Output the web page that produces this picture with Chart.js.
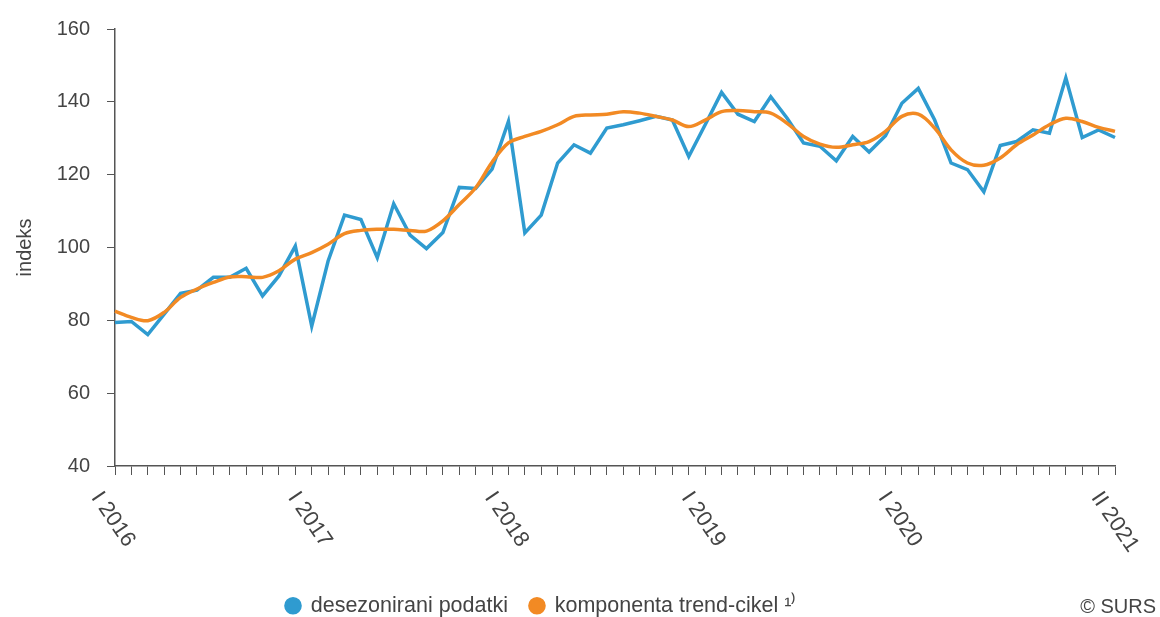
<!DOCTYPE html>
<html>
<head>
<meta charset="utf-8">
<script src="https://cdn.jsdelivr.net/npm/chart.js@4"></script>
<style>
  html, body { margin: 0; padding: 0; background: #fff; }
  #wrap { width: 1160px; height: 617px; position: relative; }
</style>
</head>
<body>
<div id="wrap"><canvas id="chart"></canvas></div>
<script>
const months = ["I", "II", "III", "IV", "V", "VI", "VII", "VIII", "IX", "X", "XI", "XII"];
const years = [2016, 2017, 2018, 2019, 2020, 2021];
const categories = [];
years.forEach((y) => months.forEach((m) => categories.push(m + " " + y)));
categories.length = 62; // I 2016 .. II 2021

const shownTicks = ["I 2016", "I 2017", "I 2018", "I 2019", "I 2020", "II 2021"];

// desezonirani podatki
const seasonal = [
  79.4, 79.7, 76.1, 81.7, 87.4, 88.3, 91.8, 91.8, 94.3, 86.7, 92.2, 100.4,
  78.4, 96.3, 108.9, 107.7, 97.2, 112.0, 103.4, 99.7, 104.1, 116.5, 116.2, 121.5,
  134.6, 104.0, 108.9, 123.2, 128.2, 125.9, 132.8, 133.7, 134.8, 136.0, 135.0, 125.0,
  133.7, 142.6, 136.6, 134.6, 141.4, 135.5, 128.7, 127.8, 123.8, 130.5, 126.2, 130.7,
  139.6, 143.7, 135.0, 123.2, 121.4, 115.3, 128.0, 129.1, 132.3, 131.4, 146.6, 130.2,
  132.3, 130.2
];

// komponenta trend-cikel
const trend = [
  82.5, 80.8, 79.9, 82.2, 86.3, 88.6, 90.4, 91.9, 92.0, 91.8, 93.6, 96.8,
  98.6, 100.9, 103.8, 104.7, 105.0, 105.0, 104.7, 104.5, 107.3, 111.8, 116.4, 123.4,
  128.7, 130.5, 131.9, 133.7, 136.0, 136.4, 136.6, 137.3, 136.9, 136.0, 135.0, 133.2,
  135.0, 137.3, 137.6, 137.3, 136.9, 134.1, 130.5, 128.4, 127.5, 128.2, 129.1, 131.9,
  136.0, 136.6, 132.8, 126.8, 123.2, 122.6, 124.6, 128.2, 130.9, 133.7, 135.5, 134.6,
  133.0, 131.9
];

const BLUE = "#2f9bd0";
const ORANGE = "#f28a24";
const TXT = "#444";
const FONT = "'Liberation Sans', Arial, sans-serif";

// rotated x labels + copyright, legend placement
const extras = {
  id: "extras",
  afterLayout(chart) {
    const lg = chart.legend;
    if (lg) {
      const h = lg.bottom - lg.top;
      const w = lg.right - lg.left;
      lg.left = 264;
      lg.right = 264 + w;
      lg.top = 573;
      lg.bottom = 573 + h;
    }
  },
  afterDraw(chart) {
    const { ctx, scales } = chart;
    const xs = scales.x;
    ctx.save();
    ctx.fillStyle = TXT;
    ctx.font = "22px " + FONT;
    ctx.textAlign = "left";
    ctx.textBaseline = "top";
    shownTicks.forEach((lab) => {
      const i = categories.indexOf(lab);
      const px = xs.getPixelForValue(i);
      ctx.save();
      ctx.translate(px - 10, xs.top + 22);
      ctx.rotate((56 * Math.PI) / 180);
      ctx.fillText(lab, 0, 0);
      ctx.restore();
    });
    ctx.font = "20px " + FONT;
    ctx.textAlign = "right";
    ctx.textBaseline = "middle";
    ctx.fillText("\u00A9 SURS", 1156, 607);
    ctx.restore();
  },
};

new Chart(document.getElementById("chart"), {
  type: "line",
  data: {
    labels: categories,
    datasets: [
      {
        label: "desezonirani podatki",
        data: seasonal,
        borderColor: BLUE,
        backgroundColor: BLUE,
        borderWidth: 3.5,
        pointRadius: 0,
        tension: 0,
        order: 1,
      },
      {
        label: "komponenta trend-cikel \u00B9\u207E",
        data: trend,
        borderColor: ORANGE,
        backgroundColor: ORANGE,
        borderWidth: 3.5,
        pointRadius: 0,
        tension: 0.35,
        order: 0,
      },
    ],
  },
  options: {
    responsive: true,
    maintainAspectRatio: false,
    animation: false,
    layout: { padding: { top: 27, right: 45, left: 0, bottom: 0 } },
    scales: {
      x: {
        offset: false,
        grid: { display: true, drawOnChartArea: false, drawTicks: true, tickLength: 9, color: "#555", lineWidth: 1 },
        border: { color: "#555", width: 1.5 },
        ticks: { display: false },
        afterFit(scale) {
          const lh = scale.chart.legend ? scale.chart.legend.height : 0;
          scale.height = 617 - 466 - lh;
        },
      },
      y: {
        min: 40,
        max: 160,
        ticks: { stepSize: 20, color: TXT, font: { size: 20, family: FONT }, padding: 17 },
        grid: { display: true, drawOnChartArea: false, drawTicks: true, tickLength: 8, color: "#555" },
        border: { color: "#555", width: 1.5 },
        title: { display: true, text: "indeks", color: TXT, font: { size: 20, family: FONT }, padding: { top: 13, bottom: 0 } },
        afterFit(scale) {
          scale.width = 115;
        },
      },
    },
    plugins: {
      legend: {
        position: "bottom",
        align: "start",
        labels: {
          usePointStyle: true,
          pointStyle: "circle",
          boxWidth: 14,
          boxHeight: 10,
          padding: 22,
          color: TXT,
          font: { size: 21.5, family: FONT },
          sort: (a, b) => a.datasetIndex - b.datasetIndex,
        },
      },
      tooltip: { enabled: false },
    },
  },
  plugins: [extras],
});
</script>
</body>
</html>
